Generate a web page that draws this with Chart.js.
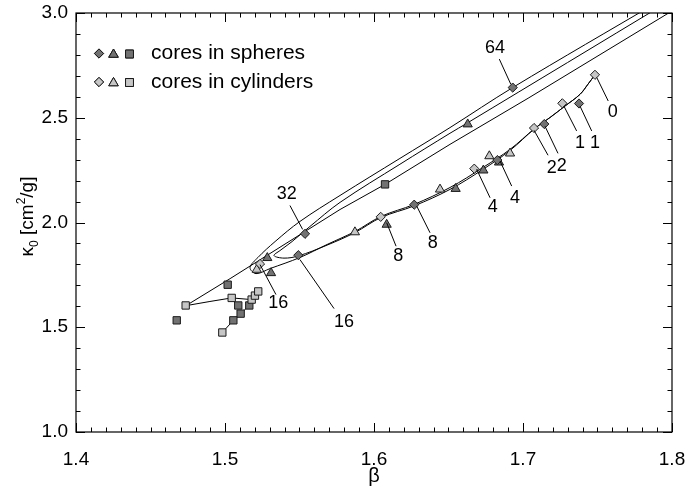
<!DOCTYPE html>
<html>
<head>
<meta charset="utf-8">
<script src="https://cdn.jsdelivr.net/npm/chart.js@4.4.1/dist/chart.umd.min.js"></script>
<style>
  html, body { margin: 0; padding: 0; background: #fff; }
</style>
</head>
<body>
<canvas id="chart" width="689" height="488"></canvas>
<script>
// axis ranges and tick labels
const xRange = [1.4, 1.8];
const yRange = [1.0, 3.0];
const xTickLabels = ['1.4', '1.5', '1.6', '1.7', '1.8'];
const yTickLabels = ['1.0', '1.5', '2.0', '2.5', '3.0'];

// markers, [beta, kappa0]
const sphereDiamonds = [[1.7376, 2.568], [1.7143, 2.470], [1.6828, 2.298], [1.6270, 2.085], [1.5492, 1.844], [1.5537, 1.946], [1.6931, 2.644]];
const cylinderDiamonds = [[1.7483, 2.705], [1.7264, 2.569], [1.7074, 2.451], [1.6673, 2.257], [1.6045, 2.027], [1.5235, 1.802]];
const sphereTriangles = [[1.6629, 2.469], [1.6734, 2.249], [1.6548, 2.161], [1.6839, 2.287], [1.6085, 1.990], [1.5284, 1.831], [1.5309, 1.759]];
const cylinderTriangles = [[1.6774, 2.317], [1.6913, 2.330], [1.6443, 2.158], [1.5872, 1.954], [1.5213, 1.775]];
const sphereSquares = [[1.6074, 2.182], [1.5018, 1.703], [1.4676, 1.533], [1.5089, 1.604], [1.5105, 1.565], [1.5056, 1.533], [1.5163, 1.604]];
const cylinderSquares = [[1.4736, 1.604], [1.5045, 1.640], [1.4982, 1.475], [1.5179, 1.632], [1.5201, 1.651], [1.5223, 1.671]];

// model tracks
const trackA = [[1.7906, 3.053], [1.6933, 2.645], [1.6510, 2.453], [1.6174, 2.306], [1.5772, 2.129], [1.5503, 2.005],
  [1.5336, 1.909], [1.5221, 1.833], [1.5168, 1.785], [1.5208, 1.756], [1.5302, 1.780], [1.5503, 1.833],
  [1.5685, 1.895], [1.5872, 1.957], [1.6047, 2.029], [1.6268, 2.086], [1.6510, 2.167], [1.6732, 2.263],
  [1.6913, 2.349], [1.7081, 2.450], [1.7181, 2.501], [1.7282, 2.556], [1.7383, 2.612], [1.7436, 2.660], [1.7483, 2.705]];
const trackB = [[1.7973, 3.053], [1.6624, 2.474], [1.6510, 2.426], [1.6174, 2.278], [1.5772, 2.096], [1.5570, 1.981],
  [1.5450, 1.909], [1.5369, 1.866], [1.5329, 1.842], [1.5396, 1.830], [1.5490, 1.840], [1.5685, 1.892],
  [1.5872, 1.952], [1.6047, 2.024], [1.6268, 2.079], [1.6510, 2.158], [1.6732, 2.254], [1.6913, 2.344],
  [1.7081, 2.450], [1.7181, 2.501], [1.7282, 2.556], [1.7383, 2.612], [1.7436, 2.660], [1.7483, 2.705]];
const trackC = [[1.8054, 3.033], [1.7034, 2.593], [1.6510, 2.373], [1.6074, 2.182], [1.5772, 2.062], [1.5537, 1.957],
  [1.5302, 1.852], [1.5034, 1.732], [1.4738, 1.603], [1.4899, 1.623], [1.5045, 1.640], [1.5179, 1.632]];
const trackD = [[1.4982, 1.475], [1.5056, 1.533], [1.5105, 1.565], [1.5163, 1.604], [1.5201, 1.651], [1.5223, 1.671]];

// time labels with leader lines
const timeLabels = ['64', '0', '1', '1', '2', '2', '4', '4', '8', '8', '32', '16', '16'];
const labelAt = [[1.6812, 2.831], [1.7602, 2.525], [1.7383, 2.381], [1.7483, 2.381], [1.7193, 2.262], [1.7260, 2.269],
  [1.6946, 2.118], [1.6797, 2.075], [1.6394, 1.903], [1.6163, 1.842], [1.5414, 2.134], [1.5358, 1.616], [1.5799, 1.526]];
const leaderFrom = [[1.6841, 2.780], [1.7495, 2.692], [1.7275, 2.555], [1.7383, 2.555], [1.7074, 2.440], [1.7148, 2.459],
  [1.6846, 2.293], [1.6689, 2.254], [1.6287, 2.078], [1.6085, 1.999], [1.5436, 2.081], [1.5235, 1.799], [1.5503, 1.823]];
const leaderTo = [[1.6918, 2.660], [1.7572, 2.580], [1.7360, 2.437], [1.7461, 2.437], [1.7168, 2.321], [1.7235, 2.330],
  [1.6924, 2.174], [1.6779, 2.118], [1.6376, 1.951], [1.6148, 1.887], [1.5521, 1.967], [1.5342, 1.656], [1.5732, 1.589]];

const legendLabels = ['cores in spheres', 'cores in cylinders'];

const DARK = '#727272';
const LIGHT = '#c6c6c6';
const EDGE = '#1a1a1a';
const FONT = '"Liberation Sans", Arial, Helvetica, sans-serif';

const toXY = arr => arr.map(p => ({ x: p[0], y: p[1] }));

function markerSet(data, fill, style, radius, order) {
    return {
        data: toXY(data),
        showLine: false,
        pointStyle: style,
        pointRadius: radius,
        pointBackgroundColor: fill,
        pointBorderColor: EDGE,
        pointBorderWidth: 1,
        order: order
    };
}

function trackSet(data, tension) {
    return {
        data: toXY(data),
        showLine: true,
        borderColor: '#000',
        borderWidth: 1,
        pointRadius: 0,
        tension: tension,
        order: 5
    };
}

/**
 * Frame, inward ticks on all four sides, y title, labels and legend
 */
const decorPlugin = {
    id: 'decor',
    afterDatasetsDraw(chart) {
        const { ctx, scales: { x, y } } = chart;
        ctx.save();
        ctx.strokeStyle = '#000';
        ctx.lineWidth = 1;
        ctx.fillStyle = '#000';
        ctx.font = '18px ' + FONT;
        ctx.textAlign = 'center';
        ctx.textBaseline = 'middle';
        timeLabels.forEach((t, i) => {
            ctx.beginPath();
            ctx.moveTo(x.getPixelForValue(leaderFrom[i][0]), y.getPixelForValue(leaderFrom[i][1]));
            ctx.lineTo(x.getPixelForValue(leaderTo[i][0]), y.getPixelForValue(leaderTo[i][1]));
            ctx.stroke();
            ctx.fillText(t, x.getPixelForValue(labelAt[i][0]), y.getPixelForValue(labelAt[i][1]));
        });
        ctx.restore();
    },
    afterDraw(chart) {
        const { ctx, chartArea: a, scales: { x, y } } = chart;
        ctx.save();
        ctx.strokeStyle = '#000';
        ctx.lineWidth = 1.2;
        ctx.strokeRect(a.left, a.top, a.right - a.left, a.bottom - a.top);

        // inward ticks, majors every 0.1 / 0.5
        ctx.lineWidth = 1;
        ctx.beginPath();
        for (let i = 0; i <= 40; i++) {
            const px = Math.round(x.getPixelForValue(xRange[0] + i * 0.01)) + 0.5;
            const len = i % 10 === 0 ? 9 : 4.5;
            ctx.moveTo(px, a.bottom); ctx.lineTo(px, a.bottom - len);
            ctx.moveTo(px, a.top); ctx.lineTo(px, a.top + len);
        }
        for (let i = 0; i <= 20; i++) {
            const py = Math.round(y.getPixelForValue(yRange[0] + i * 0.1)) + 0.5;
            const len = i % 5 === 0 ? 9 : 4.5;
            ctx.moveTo(a.left, py); ctx.lineTo(a.left + len, py);
            ctx.moveTo(a.right, py); ctx.lineTo(a.right - len, py);
        }
        ctx.stroke();

        // y axis title: kappa_0 [cm^2/g]
        const parts = [
            { t: '\u03BA', size: 19, dy: 0 },
            { t: '0', size: 12, dy: 5 },
            { t: ' [cm', size: 19, dy: 0 },
            { t: '2', size: 12, dy: -8 },
            { t: '/g]', size: 19, dy: 0 }
        ];
        let total = 0;
        parts.forEach(p => { ctx.font = p.size + 'px ' + FONT; p.w = ctx.measureText(p.t).width; total += p.w; });
        ctx.translate(33, (a.top + a.bottom) / 2 - 6);
        ctx.rotate(-Math.PI / 2);
        ctx.fillStyle = '#000';
        ctx.textBaseline = 'alphabetic';
        ctx.textAlign = 'left';
        let u = -total / 2;
        parts.forEach(p => {
            ctx.font = p.size + 'px ' + FONT;
            ctx.fillText(p.t, u, p.dy);
            u += p.w;
        });
        ctx.restore();

        // legend
        ctx.save();
        const rows = [[DARK, 53.5], [LIGHT, 82]];
        rows.forEach((r, i) => {
            const [fill, cy] = r;
            ctx.fillStyle = fill;
            ctx.strokeStyle = EDGE;
            ctx.lineWidth = 1;
            Chart.helpers.drawPoint(ctx, { pointStyle: 'rectRot', radius: 4.6, borderWidth: 1 }, 99, cy);
            ctx.fill(); ctx.stroke();
            Chart.helpers.drawPoint(ctx, { pointStyle: 'triangle', radius: 5.5, borderWidth: 1 }, 113.5, cy + 1);
            ctx.fill(); ctx.stroke();
            Chart.helpers.drawPoint(ctx, { pointStyle: 'rect', radius: 5.6, borderWidth: 1 }, 129.5, cy + 0.5);
            ctx.fill(); ctx.stroke();
            ctx.fillStyle = '#000';
            ctx.font = '21px ' + FONT;
            ctx.textAlign = 'left';
            ctx.textBaseline = 'middle';
            ctx.fillText(legendLabels[i], 151, cy);
        });
        ctx.restore();
    }
};

new Chart(document.getElementById('chart').getContext('2d'), {
    type: 'scatter',
    data: {
        datasets: [
            markerSet(cylinderDiamonds, LIGHT, 'rectRot', 4.6, 0),
            markerSet(sphereDiamonds, DARK, 'rectRot', 4.6, 0),
            markerSet(sphereTriangles, DARK, 'triangle', 5.3, 1),
            markerSet(cylinderTriangles, LIGHT, 'triangle', 5.3, 1),
            markerSet(cylinderSquares, LIGHT, 'rect', 5.2, 2),
            markerSet(sphereSquares, DARK, 'rect', 5.2, 2),
            trackSet(trackA, 0.35),
            trackSet(trackB, 0.35),
            trackSet(trackC, 0),
            trackSet(trackD, 0)
        ]
    },
    options: {
        responsive: false,
        animation: false,
        layout: { autoPadding: false, padding: { left: 0, right: 17, top: 13, bottom: 0 } },
        plugins: { legend: { display: false }, tooltip: { enabled: false } },
        scales: {
            x: {
                type: 'linear',
                min: xRange[0],
                max: xRange[1],
                afterFit: s => { s.height = 56; s.paddingLeft = 0; s.paddingRight = 0; },
                afterBuildTicks: s => { s.ticks = xTickLabels.map(v => ({ value: parseFloat(v) })); },
                grid: { display: false, drawTicks: false },
                border: { display: false },
                ticks: {
                    padding: 16,
                    color: '#000',
                    font: { family: FONT, size: 19 },
                    callback: v => v.toFixed(1)
                },
                title: { display: true, text: '\u03B2', color: '#000', font: { family: FONT, size: 20 }, padding: 0 }
            },
            y: {
                type: 'linear',
                min: yRange[0],
                max: yRange[1],
                afterFit: s => { s.width = 76; s.paddingTop = 0; s.paddingBottom = 0; },
                afterBuildTicks: s => { s.ticks = yTickLabels.map(v => ({ value: parseFloat(v) })); },
                grid: { display: false, drawTicks: false },
                border: { display: false },
                ticks: {
                    padding: 8,
                    color: '#000',
                    font: { family: FONT, size: 19 },
                    callback: v => v.toFixed(1)
                }
            }
        }
    },
    plugins: [decorPlugin]
});
</script>
</body>
</html>
